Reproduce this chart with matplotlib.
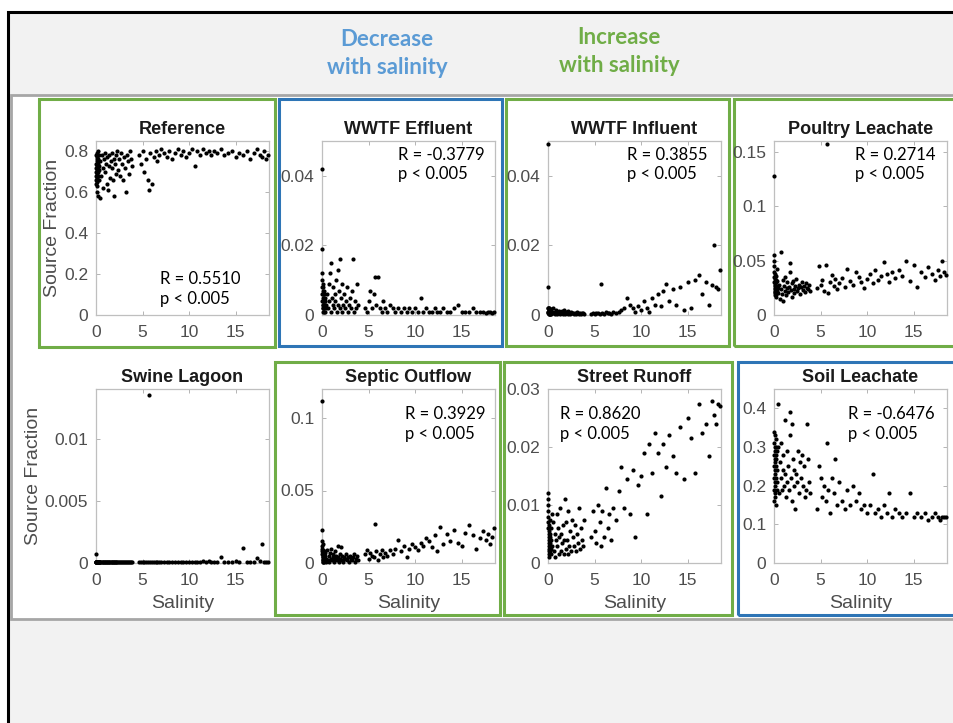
import matplotlib
matplotlib.use('Agg')
import matplotlib.pyplot as plt
from matplotlib.patches import Rectangle
from matplotlib.ticker import FuncFormatter

plt.rcParams['font.family'] = ['Liberation Sans', 'DejaVu Sans']

# salinity of each sample (shared by all panels)
salinity = [0.00, 0.00, 0.01, 0.02, 0.03, 0.04, 0.05, 0.06, 0.07, 0.08, 0.09, 0.10, 0.11, 0.12, 0.13,
            0.14, 0.15, 0.16, 0.18, 0.19, 0.20, 0.21, 0.23, 0.24, 0.26, 0.28, 0.30, 0.33, 0.36, 0.40,
            0.48, 0.55, 0.62, 0.70, 0.78, 0.85, 0.92, 1.00, 1.08, 1.15, 1.22, 1.30, 1.38, 1.45, 1.52,
            1.60, 1.68, 1.75, 1.82, 1.90, 1.98, 2.05, 2.12, 2.20, 2.30, 2.40, 2.50, 2.60, 2.70, 2.80,
            2.90, 3.00, 3.10, 3.20, 3.30, 3.40, 3.50, 3.62, 3.75, 3.90,
            4.60, 4.80, 5.00, 5.20, 5.40, 5.55, 5.70, 5.85, 6.00, 6.20, 6.40, 6.60, 6.80, 7.00, 7.30,
            7.60, 7.90, 8.20, 8.50, 8.80, 9.10, 9.40, 9.70, 10.00, 10.30, 10.60, 10.90, 11.20, 11.50, 11.80,
            12.10, 12.40, 12.70, 13.00, 13.40, 13.80, 14.20, 14.60, 15.00, 15.40, 15.80, 16.20, 16.60, 17.00, 17.30,
            17.60, 17.90, 18.10, 18.30, 18.50]

reference = [0.70, 0.66, 0.74, 0.78, 0.68, 0.72, 0.64, 0.76, 0.60, 0.71, 0.79, 0.67, 0.73, 0.63, 0.75,
             0.69, 0.77, 0.65, 0.72, 0.80, 0.70, 0.58, 0.74, 0.68, 0.76, 0.71, 0.66, 0.78, 0.73, 0.57,
             0.75, 0.68, 0.78, 0.72, 0.62, 0.76, 0.79, 0.70, 0.74, 0.64, 0.77, 0.61, 0.73, 0.78, 0.67,
             0.75, 0.79, 0.72, 0.66, 0.76, 0.58, 0.74, 0.78, 0.69, 0.80, 0.71, 0.76, 0.68, 0.79, 0.74,
             0.66, 0.77, 0.72, 0.60, 0.78, 0.75, 0.69, 0.80, 0.76, 0.73,
             0.78, 0.74, 0.80, 0.70, 0.76, 0.66, 0.61, 0.79, 0.64, 0.77, 0.80, 0.75, 0.78, 0.81, 0.79,
             0.77, 0.80, 0.76, 0.79, 0.81, 0.78, 0.80, 0.77, 0.79, 0.81, 0.73, 0.80, 0.78, 0.81, 0.79,
             0.80, 0.78, 0.80, 0.79, 0.81, 0.78, 0.79, 0.80, 0.77, 0.79, 0.78, 0.80, 0.76, 0.79, 0.81,
             0.78, 0.77, 0.80, 0.76, 0.78]

wwtf_effluent = [0.042, 0.019, 0.012, 0.010, 0.008, 0.006, 0.004, 0.009, 0.003, 0.005, 0.002, 0.007, 0.001, 0.004, 0.006,
                 0.003, 0.008, 0.002, 0.005, 0.001, 0.004, 0.007, 0.003, 0.002, 0.006, 0.001, 0.004, 0.003, 0.005, 0.002,
                 0.003, 0.006, 0.002, 0.009, 0.004, 0.012, 0.001, 0.015, 0.005, 0.003, 0.008, 0.002, 0.006, 0.004, 0.010,
                 0.001, 0.013, 0.003, 0.007, 0.002, 0.016, 0.005, 0.001, 0.009, 0.003, 0.006, 0.002, 0.004, 0.008, 0.001,
                 0.003, 0.005, 0.002, 0.007, 0.016, 0.001, 0.004, 0.002, 0.009, 0.003,
                 0.002, 0.001, 0.004, 0.007, 0.002, 0.006, 0.011, 0.003, 0.011, 0.002, 0.001, 0.004, 0.002, 0.001, 0.003,
                 0.002, 0.001, 0.002, 0.001, 0.002, 0.001, 0.002, 0.001, 0.002, 0.001, 0.005, 0.001, 0.002, 0.001, 0.001,
                 0.002, 0.001, 0.001, 0.002, 0.001, 0.001, 0.002, 0.003, 0.001, 0.001, 0.001, 0.002, 0.001, 0.001, 0.001,
                 0.0005, 0.001, 0.001, 0.0005, 0.001]

wwtf_influent = [0.049, 0.008, 0.002, 0.001, 0.0005, 0.001, 0.002, 0.0003, 0.001, 0.0015, 0.0005, 0.002, 0.001, 0.0003, 0.0008,
                 0.0012, 0.0005, 0.002, 0.001, 0.0003, 0.0007, 0.0015, 0.0005, 0.001, 0.0003, 0.0018, 0.0008, 0.0004, 0.001, 0.0006,
                 0.001, 0.002, 0.0005, 0.001, 0.0003, 0.0015, 0.0008, 0.0004, 0.001, 0.0006, 0.0012, 0.0003, 0.0009, 0.0005, 0.0011,
                 0.0004, 0.0007, 0.0013, 0.0003, 0.0008, 0.0005, 0.001, 0.0004, 0.0012, 0.0006, 0.0003, 0.0009, 0.0005, 0.0007, 0.0004,
                 0.0006, 0.0003, 0.0008, 0.0005, 0.0004, 0.0006, 0.0003, 0.0005, 0.0007, 0.0004,
                 0.0004, 0.0006, 0.0003, 0.0005, 0.0007, 0.0004, 0.009, 0.0006, 0.0003, 0.0008, 0.0005, 0.0007, 0.0004, 0.0009, 0.0006,
                 0.001, 0.0015, 0.002, 0.005, 0.003, 0.002, 0.001, 0.0025, 0.0015, 0.004, 0.002, 0.001, 0.005, 0.003, 0.006,
                 0.0025, 0.007, 0.009, 0.004, 0.0075, 0.003, 0.008, 0.0015, 0.0095, 0.002, 0.01, 0.0115, 0.006, 0.0095, 0.003,
                 0.0085, 0.02, 0.008, 0.0075, 0.013]

poultry = [0.128, 0.055, 0.050, 0.045, 0.040, 0.035, 0.030, 0.028, 0.025, 0.022, 0.020, 0.033, 0.027, 0.018, 0.024,
           0.038, 0.029, 0.021, 0.032, 0.026, 0.019, 0.036, 0.023, 0.030, 0.017, 0.027, 0.042, 0.022, 0.031, 0.025,
           0.020, 0.028, 0.015, 0.058, 0.024, 0.019, 0.032, 0.013, 0.027, 0.022, 0.035, 0.018, 0.025, 0.030, 0.021,
           0.026, 0.040, 0.048, 0.023, 0.029, 0.017, 0.031, 0.024, 0.020, 0.027, 0.033, 0.022, 0.025, 0.028, 0.019,
           0.026, 0.030, 0.023, 0.027, 0.021, 0.029, 0.025, 0.024, 0.028, 0.022,
           0.025, 0.045, 0.028, 0.032, 0.022, 0.046, 0.157, 0.020, 0.030, 0.037, 0.027, 0.033, 0.024, 0.029, 0.034,
           0.026, 0.042, 0.031, 0.028, 0.040, 0.035, 0.030, 0.025, 0.033, 0.038, 0.029, 0.041, 0.032, 0.036, 0.049,
           0.038, 0.030, 0.040, 0.034, 0.041, 0.036, 0.050, 0.031, 0.046, 0.026, 0.040, 0.035, 0.044, 0.038, 0.032,
           0.041, 0.036, 0.050, 0.040, 0.037]

swine = [0.0007, 0.0001, 0.00005, 0.0001, 0.00005, 0.0001, 0.00005, 0.0001, 0.00005, 0.0001, 0.00005, 0.0001, 0.00005, 0.0001, 0.00005,
         0.0001, 0.00005, 0.0001, 0.00005, 0.0001, 0.00005, 0.0001, 0.00005, 0.0001, 0.00005, 0.0001, 0.00005, 0.0001, 0.00005, 0.0001,
         0.0001, 0.00005, 0.0001, 0.00005, 0.0001, 0.00005, 0.0001, 0.00005, 0.0001, 0.00005, 0.0001, 0.00005, 0.0001, 0.00005, 0.0001,
         0.00005, 0.0001, 0.00005, 0.0001, 0.00005, 0.0001, 0.00005, 0.0001, 0.00005, 0.0001, 0.00005, 0.0001, 0.00005, 0.0001, 0.00005,
         0.0001, 0.00005, 0.0001, 0.00005, 0.0001, 0.00005, 0.0001, 0.00005, 0.0001, 0.00005,
         0.0001, 0.00005, 0.0001, 0.00005, 0.0001, 0.00005, 0.0135, 0.0001, 0.00005, 0.0001, 0.00005, 0.0001, 0.00005, 0.0001, 0.00005,
         0.0001, 0.00005, 0.0001, 0.00005, 0.0001, 0.00005, 0.0001, 0.00005, 0.0001, 0.00005, 0.0001, 0.00005, 0.0001, 0.0002, 0.0001,
         0.0002, 0.0001, 0.00005, 0.0001, 0.0005, 0.0001, 0.0001, 0.0001, 0.0002, 0.0001, 0.0012, 0.0001, 0.0001, 0.0001, 0.0004,
         0.0002, 0.0015, 0.0001, 0.0001, 0.0001]

septic = [0.112, 0.023, 0.015, 0.012, 0.010, 0.008, 0.006, 0.004, 0.002, 0.001, 0.007, 0.003, 0.009, 0.005, 0.002,
          0.013, 0.004, 0.001, 0.006, 0.003, 0.008, 0.002, 0.005, 0.001, 0.004, 0.007, 0.002, 0.003, 0.005, 0.001,
          0.003, 0.009, 0.002, 0.005, 0.001, 0.007, 0.003, 0.010, 0.002, 0.004, 0.006, 0.001, 0.008, 0.003, 0.005,
          0.002, 0.012, 0.004, 0.001, 0.006, 0.003, 0.011, 0.002, 0.005, 0.001, 0.004, 0.003, 0.006, 0.002, 0.004,
          0.001, 0.005, 0.003, 0.002, 0.004, 0.006, 0.001, 0.003, 0.005, 0.002,
          0.006, 0.009, 0.003, 0.007, 0.005, 0.004, 0.027, 0.008, 0.002, 0.006, 0.009, 0.004, 0.007, 0.005, 0.009,
          0.006, 0.010, 0.016, 0.008, 0.012, 0.004, 0.010, 0.013, 0.011, 0.009, 0.014, 0.012, 0.017, 0.015, 0.011,
          0.019, 0.008, 0.025, 0.013, 0.020, 0.015, 0.023, 0.014, 0.012, 0.021, 0.026, 0.019, 0.010, 0.017, 0.022,
          0.016, 0.020, 0.013, 0.018, 0.024]

street = [0.012, 0.011, 0.010, 0.009, 0.008, 0.007, 0.006, 0.005, 0.004, 0.003, 0.002, 0.001, 0.0055, 0.0045, 0.0035,
          0.0025, 0.0065, 0.0015, 0.005, 0.004, 0.003, 0.002, 0.0075, 0.0045, 0.0035, 0.0025, 0.006, 0.0015, 0.004, 0.0085,
          0.003, 0.007, 0.002, 0.005, 0.001, 0.004, 0.0085, 0.003, 0.006, 0.0015, 0.0045, 0.0095, 0.002, 0.005, 0.0035,
          0.0065, 0.0015, 0.004, 0.011, 0.0025, 0.007, 0.004, 0.0015, 0.009, 0.003, 0.0055, 0.002, 0.0075, 0.0045, 0.003,
          0.0065, 0.002, 0.005, 0.0035, 0.0095, 0.0025, 0.006, 0.004, 0.003, 0.0075,
          0.0045, 0.009, 0.0055, 0.0035, 0.010, 0.007, 0.003, 0.009, 0.0045, 0.013, 0.006, 0.0085, 0.004, 0.0095, 0.0075,
          0.0125, 0.0165, 0.0095, 0.0145, 0.0085, 0.016, 0.0045, 0.0135, 0.015, 0.019, 0.0085, 0.0205, 0.0155, 0.0225, 0.019,
          0.0115, 0.0205, 0.0165, 0.022, 0.0185, 0.0155, 0.0235, 0.0145, 0.025, 0.0215, 0.0155, 0.0275, 0.0225, 0.024, 0.0185,
          0.028, 0.0255, 0.024, 0.0275, 0.027]

soil = [0.34, 0.31, 0.28, 0.25, 0.22, 0.19, 0.16, 0.30, 0.27, 0.24, 0.21, 0.18, 0.33, 0.29, 0.26,
        0.23, 0.20, 0.17, 0.32, 0.28, 0.25, 0.15, 0.30, 0.22, 0.27, 0.19, 0.24, 0.29, 0.21, 0.41,
        0.30, 0.18, 0.26, 0.22, 0.31, 0.19, 0.24, 0.28, 0.20, 0.37, 0.23, 0.17, 0.29, 0.21, 0.25,
        0.19, 0.33, 0.39, 0.22, 0.16, 0.36, 0.27, 0.20, 0.24, 0.14, 0.23, 0.21, 0.29, 0.18, 0.26,
        0.22, 0.28, 0.20, 0.25, 0.17, 0.19, 0.36, 0.27, 0.21, 0.18,
        0.14, 0.25, 0.22, 0.17, 0.20, 0.16, 0.31, 0.19, 0.13, 0.22, 0.18, 0.27, 0.15, 0.21, 0.16,
        0.14, 0.19, 0.15, 0.20, 0.16, 0.18, 0.14, 0.15, 0.13, 0.15, 0.23, 0.13, 0.14, 0.12, 0.15,
        0.13, 0.18, 0.12, 0.14, 0.13, 0.12, 0.13, 0.18, 0.12, 0.13, 0.12, 0.13, 0.11, 0.12, 0.13,
        0.12, 0.11, 0.12, 0.12, 0.12]

titles = ['Reference', 'WWTF Effluent', 'WWTF Influent', 'Poultry Leachate',
          'Swine Lagoon', 'Septic Outflow', 'Street Runoff', 'Soil Leachate']
series = [reference, wwtf_effluent, wwtf_influent, poultry, swine, septic, street, soil]
r_text = ['R = 0.5510', 'R = -0.3779', 'R = 0.3855', 'R = 0.2714',
          None, 'R = 0.3929', 'R = 0.8620', 'R = -0.6476']
ytops = [0.85, 0.05, 0.05, 0.16, 0.014, 0.12, 0.03, 0.45]
yticks = [[0, 0.2, 0.4, 0.6, 0.8], [0, 0.02, 0.04], [0, 0.02, 0.04], [0, 0.05, 0.1, 0.15],
          [0, 0.005, 0.01], [0, 0.05, 0.1], [0, 0.01, 0.02, 0.03], [0, 0.1, 0.2, 0.3, 0.4]]
# where the R/p text sits (axes fraction)
r_pos = [(0.37, 0.15), (0.44, 0.865), (0.455, 0.865), (0.47, 0.865),
         None, (0.48, 0.80), (0.07, 0.80), (0.43, 0.80)]

GREEN = '#70AD47'
BLUE = '#2E75B6'
box_colors = [GREEN, BLUE, GREEN, GREEN, None, GREEN, GREEN, BLUE]

W, H = 954, 723
fig = plt.figure(figsize=(W / 100, H / 100), dpi=100)


def fbox(x0, y0, x1, y1):
    return (x0 / W, 1 - y1 / H), (x1 - x0) / W, (y1 - y0) / H


# slide background
xy, w, h = fbox(8.5, 12.5, 970, 740)
fig.add_artist(Rectangle(xy, w, h, transform=fig.transFigure, facecolor='#F2F2F2',
                         edgecolor='black', lw=2.2, zorder=-10))
xy, w, h = fbox(11, 95, 970, 619)
fig.add_artist(Rectangle(xy, w, h, transform=fig.transFigure, facecolor='white',
                         edgecolor='#A6A6A6', lw=2.0, zorder=-9))

# coloured frames around panels
frames = [(39, 99, 275, 347), (279, 99, 502, 346), (506, 99, 729, 346), (734, 99, 975, 346),
          None, (275, 362, 500, 615), (504, 362, 732, 615), (738, 362, 975, 615)]
for fr, c in zip(frames, box_colors):
    if fr is None:
        continue
    xy, w, h = fbox(*fr)
    fig.add_artist(Rectangle(xy, w, h, transform=fig.transFigure, facecolor='none',
                             edgecolor=c, lw=2.2, zorder=-1))

# headers
head = dict(fontsize=16, fontweight='bold', family='Lato', ha='center', va='center')
fig.text(387 / W, 1 - 39 / H, 'Decrease', color='#5B9BD5', **head)
fig.text(387 / W, 1 - 68 / H, 'with salinity', color='#5B9BD5', **head)
fig.text(619 / W, 1 - 37 / H, 'Increase', color=GREEN, **head)
fig.text(619 / W, 1 - 65 / H, 'with salinity', color=GREEN, **head)

lefts = [96, 322, 548, 774]
tops = [141, 389]
aw, ah = 173, 174

fmt = FuncFormatter(lambda v, p: '%g' % v)

for i in range(8):
    r, c = divmod(i, 4)
    xy, w, h = fbox(lefts[c], tops[r], lefts[c] + aw, tops[r] + ah)
    ax = fig.add_axes([xy[0], xy[1], w, h])
    ax.scatter(salinity, series[i], s=9, color='black', linewidths=0, zorder=3, clip_on=False)
    ax.set_xlim(0, 18.6)
    ax.set_ylim(0, ytops[i])
    ax.set_xticks([0, 5, 10, 15])
    ax.set_yticks(yticks[i])
    ax.xaxis.set_major_formatter(fmt)
    ax.yaxis.set_major_formatter(fmt)
    ax.tick_params(direction='in', length=3, width=0.6, color='#A8A8A8', top=True, right=True,
                   labelsize=12.5, labelcolor='#4D4D4D')
    ax.tick_params(axis='x', pad=7.5)
    ax.tick_params(axis='y', pad=5.5)
    for sp in ax.spines.values():
        sp.set_color('#BFBFBF')
        sp.set_linewidth(0.9)
    ax.set_title(titles[i], fontsize=13, fontweight='bold', color='#1A1A1A', pad=5)
    if c == 0:
        ax.set_ylabel('Source Fraction', fontsize=14, color='#4D4D4D', labelpad=2)
    if r == 1:
        ax.set_xlabel('Salinity', fontsize=14, color='#4D4D4D', labelpad=5)
    if r_text[i] is not None:
        ax.text(r_pos[i][0], r_pos[i][1], r_text[i] + '\np < 0.005', transform=ax.transAxes,
                family='Lato', fontsize=12, color='black', ha='left', va='center', linespacing=1.3)

fig.savefig('out.png', dpi=100)
